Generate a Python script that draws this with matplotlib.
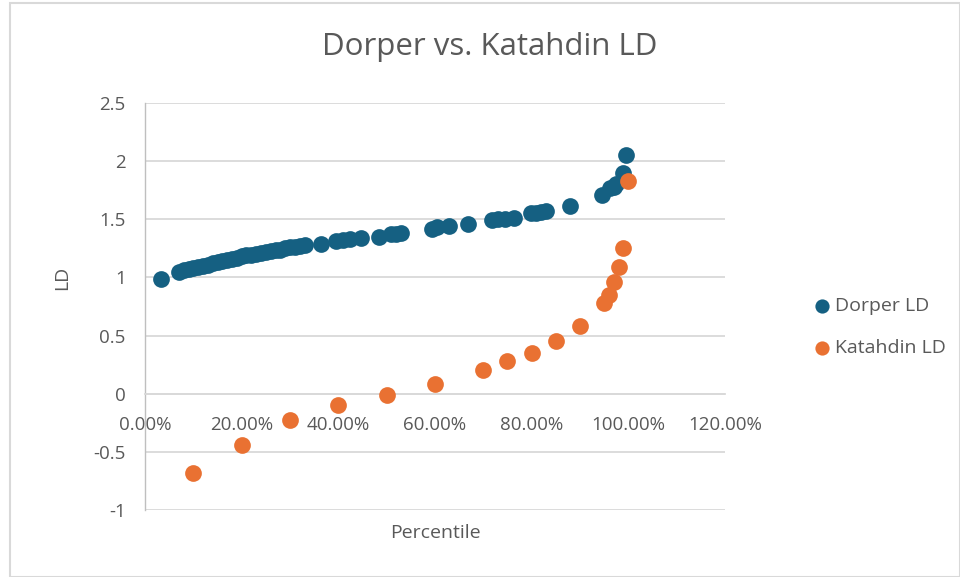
import matplotlib
matplotlib.use("Agg")
import matplotlib.pyplot as plt
from matplotlib import font_manager
from matplotlib.ticker import FuncFormatter, MultipleLocator
from matplotlib.patches import Rectangle

# ---- data ----
dorper_pct = [3.3, 7, 8, 9, 10, 11, 12, 13, 14, 15, 16, 17, 18, 19, 20, 21, 22, 23, 24,
              25, 26, 27, 28, 29, 30, 31, 32, 33,
              36.5, 39.6, 41, 42.5, 44.7, 48.5, 51, 52, 53, 59.4, 60.5, 62.9, 66.8,
              71.8, 73, 74.5, 76.3, 79.8, 81, 82, 82.9, 88, 94.6, 96.3, 97, 97.5, 99, 99.6]
dorper_ld = [0.99, 1.05, 1.06, 1.07, 1.08, 1.09, 1.10, 1.11, 1.12, 1.13, 1.14, 1.15, 1.16, 1.17, 1.18, 1.19, 1.19, 1.20, 1.21,
             1.22, 1.23, 1.24, 1.24, 1.25, 1.26, 1.26, 1.27, 1.28,
             1.29, 1.31, 1.32, 1.33, 1.34, 1.35, 1.37, 1.37, 1.38, 1.42, 1.43, 1.44, 1.46,
             1.49, 1.50, 1.50, 1.51, 1.55, 1.55, 1.56, 1.57, 1.61, 1.71, 1.77, 1.78, 1.80, 1.90, 2.05]
katahdin_pct = [10, 20, 30, 40, 50, 60, 70, 75, 80, 85, 90, 95, 96, 97, 98, 99, 100]
katahdin_ld = [-0.68, -0.44, -0.23, -0.095, -0.01, 0.08, 0.20, 0.28, 0.35, 0.45, 0.58,
               0.78, 0.85, 0.96, 1.09, 1.25, 1.83]

title = "Dorper vs. Katahdin LD"
x_label = "Percentile"
y_label = "LD"
series_names = ["Dorper LD", "Katahdin LD"]
colors = ["#156082", "#E97132"]

# ---- fonts ----
avail = {f.name for f in font_manager.fontManager.ttflist}
narrow = "Liberation Sans Narrow" if "Liberation Sans Narrow" in avail else "Open Sans"
base = "Open Sans" if "Open Sans" in avail else "DejaVu Sans"
plt.rcParams['font.family'] = [base, 'DejaVu Sans']

txt = "#595959"
grid = "#D9D9D9"

fig = plt.figure(figsize=(9.6, 5.77), dpi=100)
W, H = 960, 577
ax = fig.add_axes([145 / W, 1 - 510 / H, (725 - 145) / W, (510 - 103) / H])

ax.scatter(dorper_pct, dorper_ld, s=145, color=colors[0], linewidths=0, zorder=3, label=series_names[0])
ax.scatter(katahdin_pct, katahdin_ld, s=145, color=colors[1], linewidths=0, zorder=4, label=series_names[1])

ax.set_xlim(0, 120)
ax.set_ylim(-1, 2.5)
ax.xaxis.set_major_locator(MultipleLocator(20))
ax.yaxis.set_major_locator(MultipleLocator(0.5))
ax.xaxis.set_major_formatter(FuncFormatter(lambda v, p: f"{v:.2f}%"))
ax.yaxis.set_major_formatter(FuncFormatter(lambda v, p: f"{v:g}"))

ax.grid(axis='y', color=grid, linewidth=1.3, zorder=0)
ax.set_axisbelow(True)
for s in ['top', 'right']:
    ax.spines[s].set_visible(False)
ax.spines['bottom'].set_position(('data', 0))
ax.spines['bottom'].set_color(grid)
ax.spines['bottom'].set_linewidth(1.3)
ax.spines['left'].set_color("#BFBFBF")
ax.spines['left'].set_linewidth(1.0)

ax.tick_params(axis='x', length=0, pad=16, labelsize=13.5, labelcolor=txt)
ax.tick_params(axis='y', length=0, pad=14, labelsize=13.5, labelcolor=txt)

fig.text(490 / W, 1 - 47 / H, title, ha='center', va='center', fontsize=22.5, color=txt,
         family=[narrow, 'DejaVu Sans'])
fig.text(435 / W, 1 - 533 / H, x_label, ha='center', va='center', fontsize=14, color=txt)
fig.text(62 / W, 1 - 278 / H, y_label, ha='center', va='center', fontsize=14, color=txt, rotation=90)

leg = ax.legend(loc='center left', bbox_to_anchor=(803 / W, 1 - 327 / H), bbox_transform=fig.transFigure,
                frameon=False, fontsize=14, labelcolor=txt, handletextpad=0.05, labelspacing=1.25,
                markerscale=0.85, handlelength=1.2, borderaxespad=0)

fig.patches.append(Rectangle((10 / W, 0 / H), (W - 10) / W, (H - 3) / H, transform=fig.transFigure,
                             fill=False, edgecolor="#D9D9D9", linewidth=1.5))

fig.savefig("out.png", dpi=100)
